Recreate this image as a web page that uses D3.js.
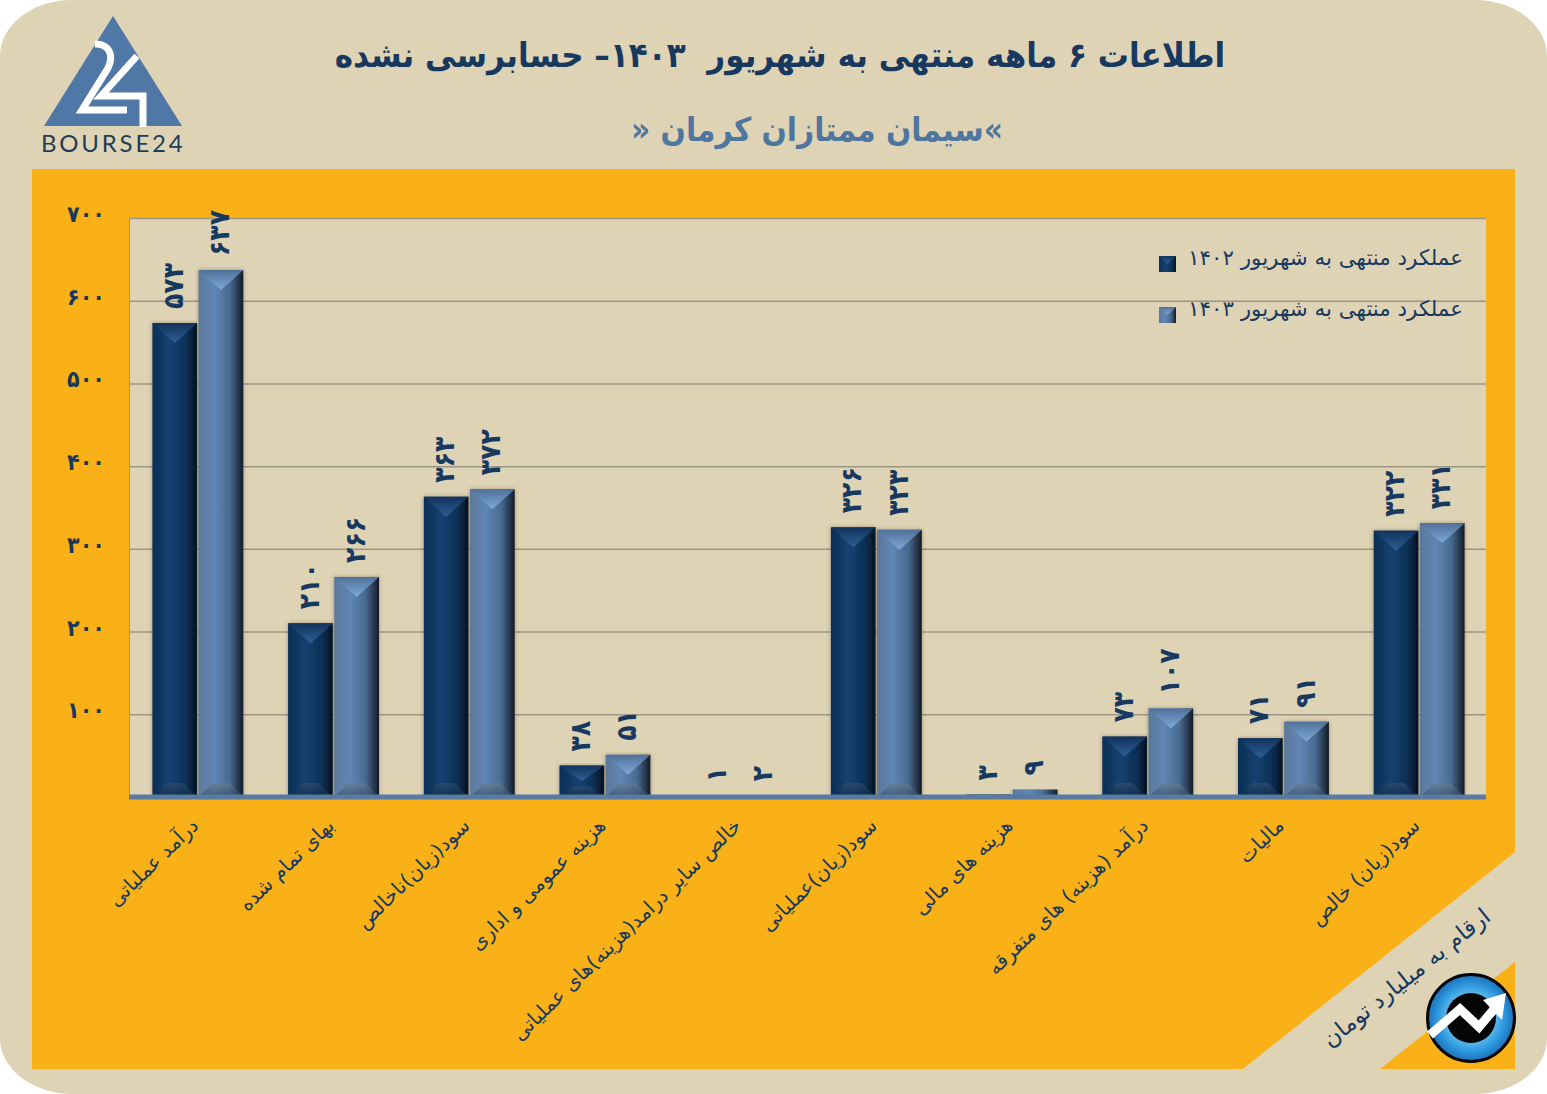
<!DOCTYPE html>
<html lang="fa">
<head>
<meta charset="utf-8">
<title>سیمان ممتازان کرمان</title>
<script src="https://cdn.jsdelivr.net/npm/d3@7"></script>
<style>
  html, body { margin: 0; padding: 0; background: #fff; }
  svg { display: block; font-family: "DejaVu Sans", sans-serif; }
  .narrow { font-family: "DejaVu Sans Condensed", "DejaVu Sans", sans-serif; font-stretch: condensed; }
</style>
</head>
<body>
<svg width="1547" height="1094"></svg>
<script>
// Data
var categories = [
	"درآمد عملیاتی", "بهای تمام شده", "سود(زیان)ناخالص", "هزینه عمومی و اداری",
	"خالص سایر درامد(هزینه)های عملیاتی", "سود(زیان)عملیاتی", "هزینه های مالی",
	"درآمد (هزینه) های متفرقه", "مالیات", "سود(زیان) خالص"
];
var values1402 = [573, 210, 363, 38, 1, 326, 3, 73, 71, 322];
var values1403 = [637, 266, 372, 51, 2, 323, 9, 107, 91, 331];
var seriesNames = ["عملکرد منتهی به شهریور ۱۴۰۲", "عملکرد منتهی به شهریور ۱۴۰۳"];
var yTicks = [100, 200, 300, 400, 500, 600, 700];

var titleText = "اطلاعات ۶ ماهه منتهی به شهریور  ۱۴۰۳– حسابرسی نشده";
var subtitleText = "»سیمان ممتازان کرمان «";
var unitText = "ارقام به میلیارد تومان";

var NAVY = "#17395f", STEEL = "#4f769f", BEIGE = "#dfd3b6", ORANGE = "#f9b117";

function fa(n) {
	return String(n).replace(/\d/g, function(c) { return "۰۱۲۳۴۵۶۷۸۹"[+c]; });
}

var svg = d3.select("svg");
var defs = svg.append("defs");

function gradient(id, stops, vertical) {
	var g = defs.append("linearGradient").attr("id", id);
	if (vertical) g.attr("x1", 0).attr("y1", 0).attr("x2", 0).attr("y2", 1);
	stops.forEach(function(s) {
		g.append("stop").attr("offset", s[0]).attr("stop-color", s[1]);
	});
}
gradient("body0", [[0, "#0c2e55"], [0.4, "#164170"], [0.75, "#0d3057"], [1, "#03121f"]]);
gradient("body1", [[0, "#5c7899"], [0.35, "#5f86b5"], [0.7, "#486a90"], [1, "#121b27"]]);
gradient("top0", [[0, "#12335c"], [1, "#2f6096"]], true);
gradient("top1", [[0, "#4f7198"], [1, "#80a9dc"]], true);
gradient("bottom0", [[0, "#35526f"], [1, "#0b2744"]], true);
gradient("bottom1", [[0, "#6b7f92"], [1, "#2c4561"]], true);

var shadow = defs.append("filter").attr("id", "barShadow")
	.attr("x", "-10%").attr("y", "-5%").attr("width", "120%").attr("height", "110%");
shadow.append("feDropShadow").attr("dx", 0).attr("dy", 0).attr("stdDeviation", 2)
	.attr("flood-color", "#4a3f25").attr("flood-opacity", 0.45);

var iconFill = defs.append("radialGradient").attr("id", "iconFill");
iconFill.append("stop").attr("offset", 0.35).attr("stop-color", "#8fd4f5");
iconFill.append("stop").attr("offset", 0.75).attr("stop-color", "#2f9be0");
iconFill.append("stop").attr("offset", 1).attr("stop-color", "#1b6fb8");

// Card background
svg.append("rect").attr("x", 0).attr("y", 0).attr("width", 1547).attr("height", 1094)
	.attr("rx", 72).attr("ry", 56).attr("fill", BEIGE);
svg.append("rect").attr("x", 32).attr("y", 169).attr("width", 1483).attr("height", 900)
	.attr("fill", ORANGE);
// Diagonal band in the bottom right corner
svg.append("path").attr("d", "M1515,852L1243,1069H1380L1515,962Z").attr("fill", BEIGE);

// Plot
var plot = { left: 129, right: 1486, top: 218, bottom: 797 };
svg.append("rect").attr("x", plot.left).attr("y", plot.top)
	.attr("width", plot.right - plot.left).attr("height", plot.bottom - plot.top)
	.attr("fill", BEIGE);

var yScale = d3.scaleLinear().domain([0, 700]).range([plot.bottom, plot.top]);
var xScale = d3.scaleBand().domain(categories).range([plot.left + 1, plot.right + 1])
	.paddingInner(0.33).paddingOuter(0.165);
var xSub = d3.scaleBand().domain([0, 1]).range([0, xScale.bandwidth()]).paddingInner(0.03);

// Y axis with grid lines
var yAxis = svg.append("g").attr("transform", "translate(" + plot.left + ",0)")
	.call(d3.axisLeft(yScale).tickValues(yTicks).tickFormat(fa).tickSize(0).tickPadding(24));
yAxis.select(".domain").attr("stroke", "#9a9684");
yAxis.selectAll("text").attr("fill", NAVY).attr("font-size", 23).attr("font-weight", "bold")
	.attr("class", "narrow").attr("dy", "0.15em");
yAxis.selectAll("line").attr("x2", plot.right - plot.left).attr("stroke", "#9a9684").attr("stroke-width", 1.5);

// Bars
var series = [values1402, values1403];
series.forEach(function(values, s) {
	var group = svg.append("g").selectAll("g").data(values).enter().append("g")
		.attr("transform", function(d, i) {
			return "translate(" + (xScale(categories[i]) + xSub(s)) + "," + yScale(d) + ")";
		});
	var w = xSub.bandwidth();
	var hOf = function(d) { return yScale(0) - yScale(d); };
	group.append("rect").attr("width", w).attr("height", hOf)
		.attr("fill", "url(#body" + s + ")").attr("filter", "url(#barShadow)");
	group.filter(function(d) { return hOf(d) > 12; }).append("path")
		.attr("d", function(d) {
			var b = Math.min(20, hOf(d) / 2);
			return "M0,0H" + w + "L" + (w / 2) + "," + b + "Z";
		})
		.attr("fill", "url(#top" + s + ")");
	group.filter(function(d) { return hOf(d) > 12; }).append("path")
		.attr("d", function(d) {
			var h = hOf(d), b = Math.min(14, h / 3);
			return "M0," + h + "H" + w + "L" + (w * 0.68) + "," + (h - b) + "H" + (w * 0.32) + "Z";
		})
		.attr("fill", "url(#bottom" + s + ")").attr("opacity", 0.6);
	group.append("text")
		.attr("class", "narrow")
		.attr("transform", function(d) { return "translate(" + (w / 2 - 2) + ",-14) rotate(-90)"; })
		.attr("dy", "0.36em").attr("text-anchor", "start")
		.attr("fill", NAVY).attr("font-size", 28).attr("font-weight", "bold")
		.text(fa);
});

// X axis
var xAxis = svg.append("g").attr("transform", "translate(0," + plot.bottom + ")")
	.call(d3.axisBottom(xScale).tickSize(0));
xAxis.select(".domain").attr("stroke", "#587ba1").attr("stroke-width", 5)
	.attr("d", "M" + plot.left + ",0H" + plot.right);
xAxis.selectAll("text")
	.attr("y", 0).attr("dy", "0.35em")
	.attr("transform", "translate(-3,25) rotate(-44)")
	.attr("direction", "rtl").attr("text-anchor", "start")
	.attr("fill", NAVY).attr("font-size", 20).attr("font-family", "DejaVu Sans");

// Legend
var legend = svg.append("g").selectAll("g").data(seriesNames).enter().append("g")
	.attr("transform", function(d, i) { return "translate(1159," + (256 + i * 51) + ")"; });
legend.append("rect").attr("width", 17).attr("height", 16)
	.attr("fill", function(d, i) { return "url(#body" + i + ")"; });
legend.append("path").attr("d", "M0,0H17L8.5,8Z").attr("fill", function(d, i) { return "url(#top" + i + ")"; });
legend.append("text").attr("x", 29).attr("y", 9)
	.attr("direction", "rtl").attr("text-anchor", "end")
	.attr("fill", NAVY).attr("font-size", 21.4)
	.text(function(d) { return d; });

// Titles
svg.append("text").attr("class", "narrow").attr("x", 780).attr("y", 67)
	.attr("direction", "rtl").attr("text-anchor", "middle").attr("xml:space", "preserve")
	.attr("fill", NAVY).attr("font-size", 34.5).attr("font-weight", "bold")
	.style("white-space", "pre").text(titleText);
svg.append("text").attr("class", "narrow").attr("x", 817).attr("y", 141)
	.attr("direction", "rtl").attr("text-anchor", "middle")
	.attr("fill", STEEL).attr("font-size", 33).attr("font-weight", "bold")
	.text(subtitleText);

// Unit note on the diagonal band
svg.append("text")
	.attr("transform", "translate(1487,913) rotate(-38.5)")
	.attr("direction", "rtl").attr("text-anchor", "start").attr("dy", "0.35em")
	.attr("fill", NAVY).attr("font-size", 23)
	.text(unitText);

// Bourse24 logo
var logo = svg.append("g");
logo.append("path").attr("d", "M113,16L182,126H44Z").attr("fill", "#4f78a6");
logo.append("path")
	.attr("d", "M95,44C110,44 114,56 108,68L82,110H127")
	.attr("fill", "none").attr("stroke", "#fff").attr("stroke-width", 7);
logo.append("path")
	.attr("d", "M137,56L101,96H143V127")
	.attr("fill", "none").attr("stroke", "#fff").attr("stroke-width", 7);
logo.append("text").attr("x", 41).attr("y", 152)
	.attr("font-family", "Lato").attr("font-size", 24).attr("letter-spacing", 2.8)
	.attr("fill", "#1f3d55").text("BOURSE24");

// Round icon
var icon = svg.append("g").attr("transform", "translate(1471,1018)");
icon.append("circle").attr("r", 43.5).attr("fill", "url(#iconFill)")
	.attr("stroke", "#050505").attr("stroke-width", 3);
icon.append("circle").attr("r", 25).attr("fill", "#050505");
icon.append("path").attr("d", "M-41,17L-11,-9L8,9L24,-10")
	.attr("fill", "none").attr("stroke", "#fff").attr("stroke-width", 9);
icon.append("path").attr("d", "M12,-18L35,-25L31,2Z").attr("fill", "#fff");
</script>
</body>
</html>
